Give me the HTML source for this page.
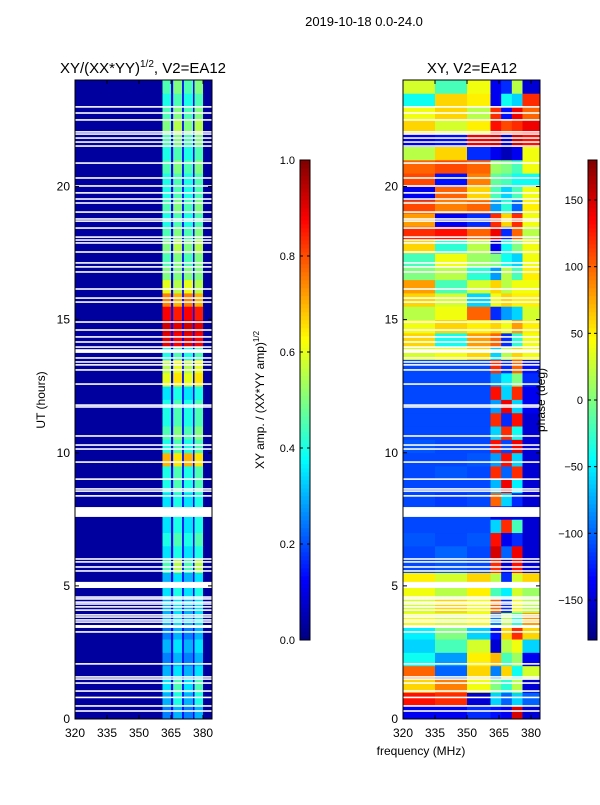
<!DOCTYPE html>
<html><head><meta charset="utf-8"><style>
body{margin:0;background:#fff;}
svg text{font-family:"Liberation Sans",sans-serif;fill:#000;}
</style></head><body>
<svg id="fig" width="600" height="800" xmlns="http://www.w3.org/2000/svg">
<rect x="0" y="0" width="600" height="800" fill="#fff"/>
<text x="364" y="26" font-size="13" text-anchor="middle">2019-10-18 0.0-24.0</text>
<text x="143" y="73" font-size="15" text-anchor="middle">XY/(XX*YY)<tspan font-size="10" dy="-6">1/2</tspan><tspan dy="6">, V2=EA12</tspan></text>
<text x="472" y="73" font-size="15" text-anchor="middle">XY, V2=EA12</text>
<text transform="translate(45,400) rotate(-90)" font-size="12" text-anchor="middle">UT (hours)</text>
<text x="421" y="755" font-size="12" text-anchor="middle">frequency (MHz)</text>
<text transform="translate(264,400) rotate(-90)" font-size="12" text-anchor="middle">XY amp. / (XX*YY amp)<tspan font-size="8" dy="-5">1/2</tspan></text>
<g id="left"></g>
<g id="right"></g>
<g id="cb1"></g>
<g id="cb2"></g>
<text transform="translate(545,400) rotate(-90)" font-size="12" text-anchor="middle">phase (deg)</text>
</svg>
<script>
// time rows: 0.5 h each, index 0 = 0.0-0.5 h
const rowHours = 0.5;
const freqEdgesLeft = [320,361,365,366,370.2,371,375.3,376,380,384.2];
const leftBg = 0.03;
const leftGap = 0.12;
const leftStripeA = [0.25,0.3,0.35,0.3,0.25,0.3,0.25,0.3,0.3,0.35,0.3,0.45,0.35,0.4,0.35,0.35,0.35,0.4,0.4,0.7,0.4,0.45,0.4,0.4,0.35,0.6,0.55,0.4,0.9,0.92,0.88,0.75,0.6,0.5,0.45,0.5,0.45,0.4,0.45,0.4,0.4,0.45,0.4,0.45,0.5,0.45,0.4,0.45];
const leftStripeB = [0.3,0.4,0.45,0.35,0.3,0.35,0.3,0.35,0.35,0.4,0.35,0.55,0.4,0.45,0.4,0.4,0.4,0.45,0.45,0.65,0.45,0.5,0.45,0.45,0.4,0.65,0.6,0.45,0.88,0.9,0.85,0.7,0.55,0.5,0.5,0.55,0.5,0.45,0.5,0.45,0.45,0.5,0.45,0.5,0.55,0.5,0.45,0.5];
const freqEdgesRight = [320,335,350,361,366,371,376,384.2];
const rightLow1 = [-140,130,60,100,-40,-60,-50,40,30,40,50,-110,-110,-105,-110,-110,-110,-110,-110,-110,-105,-110,-110,-110,-110,-110,-110,30,60,40,20,60,80,0,-20,60,120,80,110,-140,110,100,20,-140,60,40,-40,30];
const rightLow2 = [-140,120,90,-100,-80,-20,0,30,60,20,30,-105,-100,-110,-110,-110,-115,-110,-105,-110,-110,-110,-110,-110,-110,-110,-110,40,-40,60,40,30,-20,20,40,-30,130,-140,90,100,-130,110,60,-130,30,60,60,-20];
const rightLow3 = [-120,-150,40,60,50,30,-60,40,40,50,60,-110,-110,-105,-110,-110,-110,-110,-110,-105,-110,-110,-110,-110,-110,-110,-110,60,80,50,100,-60,30,-30,10,20,100,-120,100,60,90,100,-120,140,50,20,50,40];
const rightHi1 = [-130,-60,0,-90,70,-150,-130,-90,100,-20,20,120,150,130,-60,-140,100,-70,120,-80,130,-60,120,-80,130,-80,120,-60,100,60,-120,40,60,-80,0,-140,140,120,-80,-20,-10,10,-140,150,130,120,-140,-140];
const rightHi2 = [-140,-100,-30,60,-20,20,60,20,-120,-50,-120,-150,-100,-140,120,-140,-60,140,-100,130,-110,120,-120,140,-60,-50,-120,20,-120,40,-80,60,20,20,-40,-40,-120,60,-30,-60,-20,0,-160,-150,110,-130,-40,-120];
const rightHi3 = [150,-60,20,-40,10,40,120,-30,40,30,30,130,140,-120,-20,-140,-120,-50,120,-60,140,-40,130,-60,120,0,100,60,-30,80,-60,50,40,-20,-60,0,100,120,-100,-20,-40,-20,-140,150,120,140,-60,20];
const rightHi4 = [-150,-100,-150,30,-140,-60,60,80,20,10,60,-150,-150,-150,-150,-150,-150,-150,-150,-150,-150,-150,-150,-140,-140,-120,-130,40,40,50,30,50,40,50,40,40,20,40,50,40,-40,40,40,130,140,100,120,-150];
// flagged (blank) data, hours
const flagCenters = [22.99,22.76,22.5,22.05,21.97,21.82,21.67,21.52,20.88,20.32,20.02,19.76,19.53,19.38,19.04,18.78,18.7,18.44,18.1,17.99,17.88,17.54,17.13,16.98,16.79,16.15,15.81,15.66,14.91,14.61,14.35,14.16,13.97,13.82,13.78,13.86,13.56,13.41,13.3,13.11,12.58,11.79,11.72,10.63,10.29,10.14,9.65,9.01,8.64,8.56,8.38,6.01,5.9,5.71,5.56,4.58,4.51,4.39,4.32,4.21,4.09,3.91,3.83,3.72,3.64,3.27,2.07,1.58,1.5,1.35,1.05,0.81,0.49,0.3];
const flagBlocksStart = [7.59,4.92,3.42];
const flagBlocksEnd = [7.96,5.15,3.53];
const timeTicks = [0,5,10,15,20];
const freqTicks = [320,335,350,365,380];
const ampTicks = ["0.0","0.2","0.4","0.6","0.8","1.0"];
const phaseTicks = [-150,-100,-50,0,50,100,150];

const NS="http://www.w3.org/2000/svg";
function jet(v){
  v=Math.max(0,Math.min(1,v));
  const c=x=>Math.round(255*Math.max(0,Math.min(1,x)));
  const r=c(Math.min(4*v-1.5,-4*v+4.5)), g=c(Math.min(4*v-0.5,-4*v+3.5)), b=c(Math.min(4*v+0.5,-4*v+2.5));
  return `rgb(${r},${g},${b})`;
}
function mk(tag,attrs,parent){const e=document.createElementNS(NS,tag);for(const k in attrs)e.setAttribute(k,attrs[k]);parent.appendChild(e);return e;}
const PT=80, PB=719;
const yS=t=>PB-(t/24)*(PB-PT);
function panel(gid,x0,x1,fedges,valueAt,norm){
  const g=document.getElementById(gid);
  const xS=f=>x0+(f-320)/(384.2-320)*(x1-x0);
  for(let i=0;i<48;i++){
    for(let j=0;j<fedges.length-1;j++){
      const r=mk('rect',{x:xS(fedges[j]),y:yS((i+1)*rowHours),width:xS(fedges[j+1])-xS(fedges[j])+0.4,height:yS(i*rowHours)-yS((i+1)*rowHours)+0.4,fill:jet(norm(valueAt(i,j)))},g);
      
      
    }
  }
  flagCenters.forEach(t=>{
    const r=mk('rect',{x:x0,y:yS(t+0.03),width:x1-x0,height:yS(t-0.03)-yS(t+0.03),fill:'#fff'},g);
    
    
  });
  flagBlocksStart.forEach((t,k)=>{
    const r=mk('rect',{x:x0,y:yS(flagBlocksEnd[k]),width:x1-x0,height:yS(t)-yS(flagBlocksEnd[k]),fill:'#fff'},g);
    
    
  });
  const fr=mk('rect',{x:x0,y:PT,width:x1-x0,height:PB-PT,fill:'none',stroke:'#000','stroke-width':1},g);
  
  
  timeTicks.forEach(t=>{
    mk('line',{x1:x0,x2:x0+4,y1:yS(t),y2:yS(t),stroke:'#000'},g);
    mk('line',{x1:x1,x2:x1-4,y1:yS(t),y2:yS(t),stroke:'#000'},g);
    const tx=mk('text',{x:x0-5,y:yS(t)+4,'font-size':12,'text-anchor':'end'},g);
    tx.textContent=t;
    
    
  });
  freqTicks.forEach(f=>{
    mk('line',{x1:xS(f),x2:xS(f),y1:PB,y2:PB-4,stroke:'#000'},g);
    mk('line',{x1:xS(f),x2:xS(f),y1:PT,y2:PT+4,stroke:'#000'},g);
    const tx=mk('text',{x:xS(f),y:PB+18,'font-size':12,'text-anchor':'middle'},g);
    tx.textContent=f;
    
    
  });
}
panel('left',75,212,freqEdgesLeft,(i,j)=>{
  if(j===0||j===8) return leftBg;
  if(j===1||j===5) return leftStripeA[i];
  if(j===3||j===7) return leftStripeB[i];
  return leftGap;
},v=>v);
const rightCols=[rightLow1,rightLow2,rightLow3,rightHi1,rightHi2,rightHi3,rightHi4];
panel('right',403,540,freqEdgesRight,(i,j)=>rightCols[j][i],v=>(v+180)/360);

function colorbar(gid,x,w,labels,valFrac){
  const g=document.getElementById(gid);
  const top=160,bot=640;
  for(let k=0;k<120;k++){
    const r=mk('rect',{x:x,y:bot-(k+1)*4,width:w,height:4.3,fill:jet((k+0.5)/120)},g);
    
    
  }
  mk('rect',{x:x,y:top,width:w,height:bot-top,fill:'none',stroke:'#000'},g);
  labels.forEach(l=>{
    const y=bot-valFrac(l)*(bot-top);
    mk('line',{x1:x,x2:x+3,y1:y,y2:y,stroke:'#000'},g);
    mk('line',{x1:x+w,x2:x+w-3,y1:y,y2:y,stroke:'#000'},g);
    const tx=mk('text',{x:x-5,y:y+4,'font-size':11,'text-anchor':'end'},g);
    tx.textContent=String(l).replace('-','\u2212');
    
    
  });
}
colorbar('cb1',300,10,ampTicks,l=>parseFloat(l));
colorbar('cb2',588,9,phaseTicks,l=>(l+180)/360);
</script>
</body></html>
